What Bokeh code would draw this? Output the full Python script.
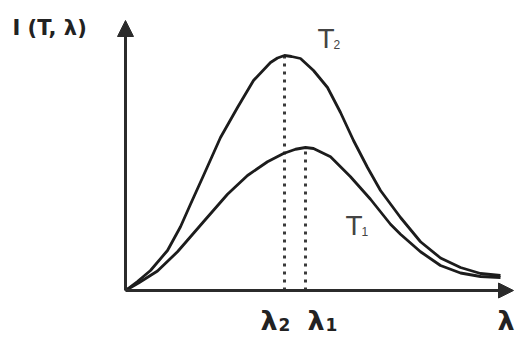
from bokeh.plotting import figure
from bokeh.models import Arrow, NormalHead, Label, Range1d
from bokeh.embed import file_html
from bokeh.resources import INLINE

# ---- data ----
t2_lam = [0, 0.48, 1.0, 1.68, 2.2, 2.6, 3.12, 3.8, 4.48, 5.12, 5.8, 6.08, 6.36, 6.64, 7.0, 7.52,
          8.08, 8.6, 9.12, 9.68, 10.2, 11.0, 11.8, 12.6, 13.4, 14.2, 15.0]
t2_I = [0, 0.36, 0.8, 1.6, 2.55, 3.45, 4.6, 6.12, 7.32, 8.4, 9.12, 9.3, 9.4, 9.36, 9.28, 8.8,
        8.12, 7.12, 6.0, 4.92, 4.0, 2.92, 1.95, 1.3, 0.92, 0.68, 0.6]

t1_lam = [0, 0.52, 1.28, 2.08, 3.12, 4.08, 4.88, 5.68, 6.32, 6.8, 7.2, 7.52, 8.2, 9.0, 9.8,
          10.6, 11.0, 11.8, 12.6, 13.4, 14.2, 15.0]
t1_I = [0, 0.3, 0.78, 1.55, 2.75, 3.85, 4.6, 5.15, 5.48, 5.65, 5.72, 5.68, 5.35, 4.55, 3.65,
        2.65, 2.25, 1.55, 1.0, 0.7, 0.56, 0.52]

peak_lam = [6.36, 7.2]      # lambda_2, lambda_1
peak_I = [9.4, 5.72]
peak_labels = ["2", "1"]

y_label = "I (T, λ)"
x_label = "λ"
curve_names = ["T", "T"]
curve_subs = ["2", "1"]


def px2x(px):
    return (px - 125) / 25


def py2y(py):
    return (290 - py) / 25


# ---- figure ----
p = figure(width=515, height=338, output_backend="svg", toolbar_location=None,
           x_axis_location=None, y_axis_location=None, min_border=0,
           x_range=Range1d(px2x(0), px2x(515)), y_range=Range1d(py2y(338), py2y(0)))
p.grid.visible = False
p.outline_line_color = None
p.background_fill_color = "white"
p.border_fill_color = "white"

axis_col = "#2b2b2b"
# axes as arrows
p.add_layout(Arrow(end=NormalHead(size=16, fill_color=axis_col, line_color=axis_col),
                   x_start=0, y_start=0, x_end=0, y_end=py2y(20),
                   line_width=3, line_color=axis_col))
p.add_layout(Arrow(end=NormalHead(size=15, fill_color=axis_col, line_color=axis_col),
                   x_start=0, y_start=0, x_end=px2x(513), y_end=0,
                   line_width=3, line_color=axis_col))

# dotted peak lines
for lx, ly in zip(peak_lam, peak_I):
    p.line([lx, lx], [0, ly], line_width=3, line_color="#3a3a3a", line_dash="3 5")

# curves
p.line(t2_lam, t2_I, line_width=2.8, line_color="#1c1c1c", line_join="round")
p.line(t1_lam, t1_I, line_width=2.8, line_color="#1c1c1c", line_join="round")

bold_font = "DejaVu Sans"
reg_font = "Liberation Sans"
SHIFT = 0.36  # alphabetic baseline correction (fraction of font size)


def add_text(px, base_py, txt, font, size, bold=False, color="#222222"):
    p.add_layout(Label(x=px2x(px), y=py2y(base_py - SHIFT * size), text=txt, text_font=font,
                       text_font_size=f"{size}px", text_font_style="bold" if bold else "normal",
                       text_color=color, text_baseline="alphabetic"))


# y label
add_text(12, 35, y_label, bold_font, 21, bold=True)

# curve labels
curve_pos = [(317, 48), (345, 235)]
for (cx, cy), nm, sb in zip(curve_pos, curve_names, curve_subs):
    add_text(cx, cy, nm, reg_font, 28, color="#444444")
    add_text(cx + 16, cy, sb, reg_font, 12, color="#444444")

# bottom lambda labels
lam_label_px = [260, 307]
for lx, sb in zip(lam_label_px, peak_labels):
    add_text(lx, 330, x_label, bold_font, 27, bold=True)
    add_text(lx + 18, 330, sb, bold_font, 17, bold=True)
add_text(497, 330, x_label, bold_font, 27, bold=True)

open("out.html", "w").write(file_html(p, INLINE))
